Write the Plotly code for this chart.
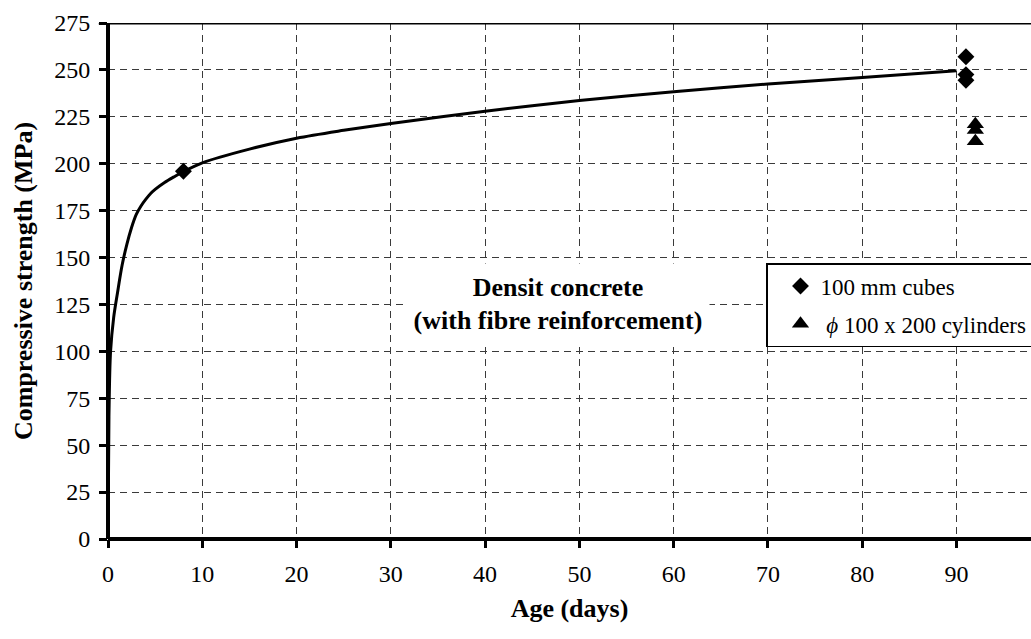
import plotly.graph_objects as go

# ---- data ----
curve_age = [0, 0.1, 0.27, 0.6, 1.0, 1.5, 2.0, 2.5, 3.0, 3.5, 4.0, 4.5, 5.0, 6.0, 7.0, 8.0, 10, 15, 20, 25, 30, 40, 50, 60, 70, 80, 90]
curve_strength = [0, 65, 100, 118, 131, 146, 157, 166, 173, 177.5, 181, 184, 186.3, 190, 193, 195.8, 200.5, 207.8, 213.6, 217.8, 221.5, 228, 233.7, 238.4, 242.5, 246, 249.5]

cube_age = [8, 91, 91, 91]
cube_strength = [196, 257, 247.5, 244.5]

cyl_age = [92, 92, 92]
cyl_strength = [221, 218, 212]

x_ticks = [0, 10, 20, 30, 40, 50, 60, 70, 80, 90]
y_ticks = [0, 25, 50, 75, 100, 125, 150, 175, 200, 225, 250, 275]

FONT = "Liberation Serif"

fig = go.Figure()

fig.add_trace(go.Scatter(
    x=curve_age, y=curve_strength, mode="lines",
    line=dict(color="black", width=3, shape="spline", smoothing=0.9),
    showlegend=False, hoverinfo="skip"))

fig.add_trace(go.Scatter(
    x=cube_age, y=cube_strength, mode="markers", name="100 mm cubes",
    marker=dict(symbol="diamond", size=13, color="black"),
    legendgroup="a"))

fig.add_trace(go.Scatter(
    x=cyl_age, y=cyl_strength, mode="markers",
    name="\u00a0<i>\u03d5</i> 100 x 200 cylinders",
    marker=dict(symbol="triangle-up", size=15, color="black"),
    legendgroup="b"))

fig.add_annotation(
    x=47.7, y=125.3, xref="x", yref="y",
    text="<b>Densit concrete<br>(with fibre reinforcement)</b>",
    showarrow=False, font=dict(family=FONT, size=26, color="black"),
    bgcolor="white", width=300, height=78, align="center", valign="middle")

# top border of the plot area
fig.add_shape(type="line", xref="paper", yref="y", x0=-0.01, x1=1.0, y0=275, y1=275,
              line=dict(color="black", width=3), layer="above")

fig.update_layout(
    width=1031, height=639,
    margin=dict(l=108, r=0, t=23, b=100, autoexpand=False),
    paper_bgcolor="white", plot_bgcolor="white",
    font=dict(family=FONT, size=24, color="black"),
    showlegend=True,
    legend=dict(
        x=(766 - 108) / 923, y=(539 - 263) / 516, xanchor="left", yanchor="top",
        bgcolor="white", bordercolor="black", borderwidth=1.5,
        font=dict(family=FONT, size=23, color="black"),
        tracegroupgap=5, indentation=13),
    xaxis=dict(
        range=[0, 97.9], tickvals=x_ticks, ticktext=[str(v) for v in x_ticks],
        showline=False,
        zeroline=True, zerolinecolor="black", zerolinewidth=3.5,
        ticks="outside", ticklen=8, tickwidth=3, tickcolor="black",
        ticklabelstandoff=5,
        showgrid=True, gridcolor="#3a3a3a", gridwidth=1, griddash="7px,5px",
        tickfont=dict(family=FONT, size=24),
        title=dict(text="<b>Age (days)</b>", font=dict(family=FONT, size=26), standoff=13)),
    yaxis=dict(
        range=[0, 275], tickvals=y_ticks, ticktext=[str(v) for v in y_ticks],
        showline=False,
        zeroline=True, zerolinecolor="black", zerolinewidth=3.5,
        ticks="outside", ticklen=8, tickwidth=3, tickcolor="black",
        ticklabelstandoff=4,
        showgrid=True, gridcolor="#3a3a3a", gridwidth=1, griddash="7px,5px",
        tickfont=dict(family=FONT, size=24),
        title=dict(text="<b>Compressive strength (MPa)</b>", font=dict(family=FONT, size=26), standoff=14)),
)

fig.write_html("out.html")
